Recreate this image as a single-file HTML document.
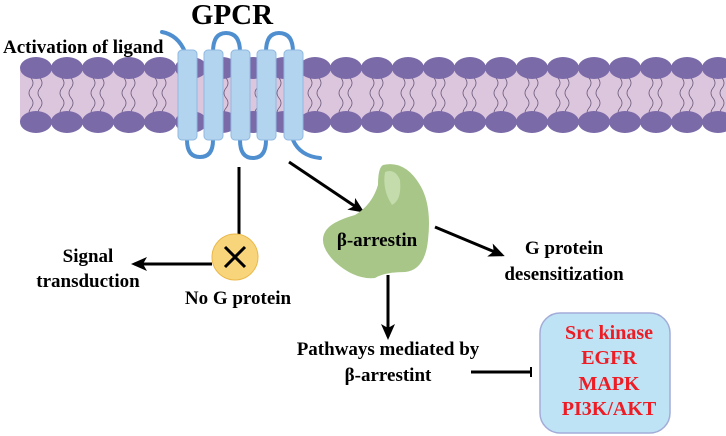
<!DOCTYPE html>
<html><head><meta charset="utf-8"><style>
html,body{margin:0;padding:0;background:#fff}
svg{display:block}
text{font-family:"Liberation Serif",serif;font-weight:bold}
</style></head><body>
<svg width="726" height="436" viewBox="0 0 726 436" xmlns="http://www.w3.org/2000/svg">
<defs>
<marker id="ah" markerWidth="16" markerHeight="14" refX="13" refY="7" orient="auto" markerUnits="userSpaceOnUse"><path d="M0,0 L16,7 L0,14 L4,7z" fill="#000"/></marker>
<pattern id="tail" width="31" height="40" patternUnits="userSpaceOnUse" x="20" y="78">
<path d="M11,0 q4,5 0,10 q-4,5 0,10 q4,5 0,10 q-4,5 0,10 M20,0 q4,5 0,10 q-4,5 0,10 q4,5 0,10 q-4,5 0,10" fill="none" stroke="#6a5a7a" stroke-width="0.8"/>
</pattern>
<g id="row">
<ellipse cx="36" cy="0" rx="16" ry="11"/><ellipse cx="67" cy="0" rx="16" ry="11"/><ellipse cx="98" cy="0" rx="16" ry="11"/><ellipse cx="129" cy="0" rx="16" ry="11"/><ellipse cx="160" cy="0" rx="16" ry="11"/><ellipse cx="191" cy="0" rx="16" ry="11"/><ellipse cx="222" cy="0" rx="16" ry="11"/><ellipse cx="253" cy="0" rx="16" ry="11"/><ellipse cx="284" cy="0" rx="16" ry="11"/><ellipse cx="315" cy="0" rx="16" ry="11"/><ellipse cx="346" cy="0" rx="16" ry="11"/><ellipse cx="377" cy="0" rx="16" ry="11"/><ellipse cx="408" cy="0" rx="16" ry="11"/><ellipse cx="439" cy="0" rx="16" ry="11"/><ellipse cx="470" cy="0" rx="16" ry="11"/><ellipse cx="501" cy="0" rx="16" ry="11"/><ellipse cx="532" cy="0" rx="16" ry="11"/><ellipse cx="563" cy="0" rx="16" ry="11"/><ellipse cx="594" cy="0" rx="16" ry="11"/><ellipse cx="625" cy="0" rx="16" ry="11"/><ellipse cx="656" cy="0" rx="16" ry="11"/><ellipse cx="687" cy="0" rx="16" ry="11"/><ellipse cx="718" cy="0" rx="16" ry="11"/>
</g>
</defs>
<!-- membrane -->
<rect x="20" y="70" width="706" height="52" fill="#dcc6de"/>
<rect x="20" y="78" width="706" height="40" fill="url(#tail)"/>
<g fill="#7b6aa8"><use href="#row" transform="translate(0,68)"/><use href="#row" transform="translate(0,122)"/></g>
<!-- loops -->
<g fill="none" stroke="#4f8fd0" stroke-width="4" stroke-linecap="round">
<path d="M162,32 Q178,35 185,52"/>
<path d="M213,52 Q213,33 226,33 Q240,33 240,52"/>
<path d="M266,52 Q266,33 279,33 Q293,33 293,52"/>
<path d="M187,140 Q187,157 200,157 Q213,157 213,140"/>
<path d="M240,140 Q240,158 253,158 Q266,158 266,140"/>
<path d="M293,140 Q300,156 320,158"/>
</g>
<!-- helices -->
<g fill="#b3d4ef" stroke="#8fb8e0" stroke-width="1">
<rect x="178" y="50" width="19" height="90" rx="4"/>
<rect x="204" y="50" width="19" height="90" rx="4"/>
<rect x="231" y="50" width="19" height="90" rx="4"/>
<rect x="257" y="50" width="19" height="90" rx="4"/>
<rect x="284" y="50" width="19" height="90" rx="4"/>
</g>
<text x="232" y="24" font-size="29" text-anchor="middle">GPCR</text>
<text x="3" y="53" font-size="19">Activation of ligand</text>
<!-- no G protein branch -->
<line x1="239" y1="167" x2="239" y2="234" stroke="#000" stroke-width="3"/>
<line x1="212" y1="264" x2="134" y2="264" stroke="#000" stroke-width="3" marker-end="url(#ah)"/>
<circle cx="235" cy="257" r="23" fill="#f8d57a" stroke="#eab84a" stroke-width="1"/>
<path d="M225,247 L245,267 M245,247 L225,267" stroke="#000" stroke-width="3"/>
<text x="88" y="262" font-size="19" text-anchor="middle">Signal</text>
<text x="88" y="287" font-size="19" text-anchor="middle">transduction</text>
<text x="238" y="304" font-size="19" text-anchor="middle">No G protein</text>
<!-- arrestin -->
<line x1="289" y1="162" x2="362" y2="211" stroke="#000" stroke-width="3" marker-end="url(#ah)"/>
<path d="M383,165 Q405,160 420,185 Q432,205 428,240 Q425,270 405,272 Q385,272 375,278 Q355,280 335,262 Q318,245 325,232 Q330,222 355,215 Q372,205 378,185 Q378,168 383,165z" fill="#a7c688"/>
<path d="M385,172 Q395,168 400,180 Q402,200 392,205 Q382,190 385,172z" fill="#c4dbab"/>
<text x="377" y="246" font-size="19" text-anchor="middle">β-arrestin</text>
<line x1="435" y1="227" x2="502" y2="255" stroke="#000" stroke-width="3" marker-end="url(#ah)"/>
<text x="564" y="254" font-size="19" text-anchor="middle">G protein</text>
<text x="564" y="280" font-size="19" text-anchor="middle">desensitization</text>
<line x1="388" y1="275" x2="388" y2="337" stroke="#000" stroke-width="3" marker-end="url(#ah)"/>
<text x="388" y="355" font-size="19" text-anchor="middle">Pathways mediated by</text>
<text x="388" y="381" font-size="19" text-anchor="middle">β-arrestint</text>
<line x1="471" y1="372" x2="531" y2="372" stroke="#000" stroke-width="3"/>
<line x1="531" y1="367" x2="531" y2="377" stroke="#000" stroke-width="2"/>
<rect x="540" y="313" width="130" height="120" rx="20" fill="#bde3f5" stroke="#a3acd9" stroke-width="1.5"/>
<g fill="#ee1c24" font-size="20" text-anchor="middle">
<text x="609" y="339">Src kinase</text>
<text x="609" y="364">EGFR</text>
<text x="609" y="390">MAPK</text>
<text x="609" y="415">PI3K/AKT</text>
</g>
</svg>
</body></html>
